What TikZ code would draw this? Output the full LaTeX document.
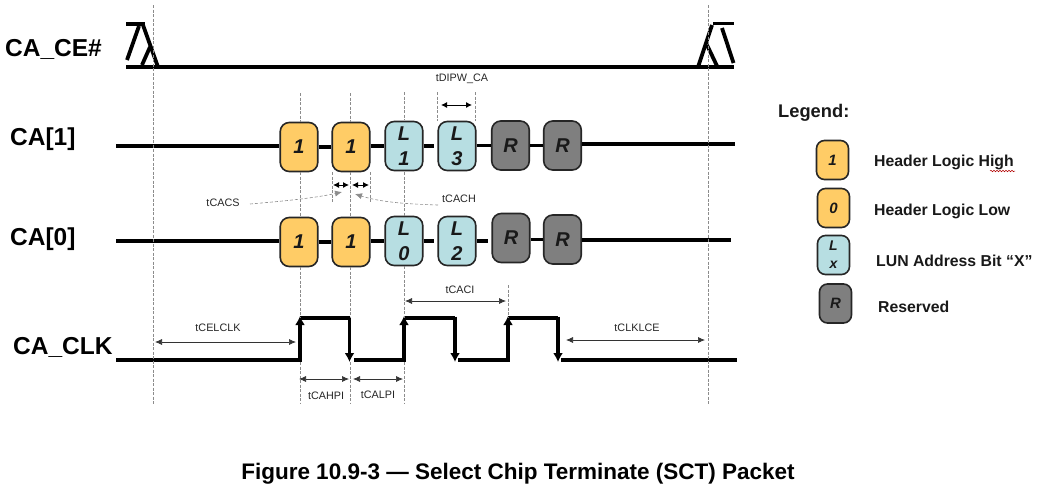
\documentclass[tikz,border=0pt]{standalone}
\usepackage{fontspec}
\setmainfont{Liberation Sans}
\usetikzlibrary{arrows.meta,decorations.pathmorphing}
\definecolor{hdr}{HTML}{FFCC66}
\definecolor{lun}{HTML}{B7DEE2}
\definecolor{rsv}{HTML}{7F7F7F}
\definecolor{guide}{HTML}{8C8C8C}
\tikzset{
  pkt/.style={draw=black!85,line width=1.6pt,rounded corners=9pt,minimum width=37.5pt,minimum height=49pt,inner sep=0pt,align=center,text=black!90,font=\fontsize{20}{23}\selectfont\bfseries\itshape},
  hbox/.style={pkt,fill=hdr},
  lbox/.style={pkt,fill=lun},
  rbox/.style={pkt,fill=rsv},
  lg/.style={pkt,minimum width=32pt,minimum height=39pt,rounded corners=8pt,font=\fontsize{15}{18}\selectfont\bfseries\itshape},
  sig/.style={line width=3.2pt,black},
  ce/.style={line width=3.8pt,black},
  guideline/.style={draw=guide,line width=0.6pt,dash pattern=on 3pt off 1.5pt},
  dim/.style={line width=0.7pt,black!80,{Latex[length=7pt,width=6pt]}-{Latex[length=7pt,width=6pt]}},
  dimshort/.style={line width=0.9pt,black,{Latex[length=6pt,width=6pt]}-{Latex[length=6pt,width=6pt]}},
  hint/.style={draw=guide,line width=0.6pt,dash pattern=on 3pt off 2pt,-{Latex[length=7pt,width=6pt,fill=guide]}},
  tiny/.style={font=\fontsize{10.8}{12}\selectfont,text=black!85,inner sep=0pt},
  sigtitle/.style={font=\fontsize{24.5}{28}\selectfont\bfseries,text=black,inner sep=0pt,anchor=west},
  legtext/.style={font=\fontsize{15.8}{18}\selectfont\bfseries,text=black!90,inner sep=0pt,anchor=west},
  edgeline/.style={line width=3.8pt,black,-{Latex[length=9pt,width=10pt]}},
}
\begin{document}
\begin{tikzpicture}[x=1pt,y=-1pt]
\useasboundingbox (0,0) rectangle (1039,491);
\fill[white] (0,0) rectangle (1039,491);

% titles
\node[sigtitle] (tce) at (5,49) {CA\_CE\#};
\node[sigtitle] (tc1) at (10,139) {CA[1]};
\node[sigtitle] (tc0) at (10,239) {CA[0]};
\node[sigtitle] (tclk) at (13,347) {CA\_CLK};

% CA[1] packets
\coordinate (a0) at (116,146);
\coordinate (a9) at (735,144);
\node[hbox] (a1) at (299,147) {1};
\node[hbox] (a2) at (351,147) {1};
\node[lbox] (a3) at (404,146) {L\\[2pt]1};
\node[lbox] (a4) at (457,146) {L\\[2pt]3};
\node[rbox] (a5) at (510.5,145.5) {R};
\node[rbox] (a6) at (562.5,145.5) {R};
\draw[sig] (a0) -- (a1.west |- a0);
\draw[sig] (a6.east |- a9) -- (a9);
\draw[sig] (a1.east) -- (a2.west);
\draw[sig] (a2.east |- a3) -- (a3.west);
\draw[sig,shorten >=3pt] (a3.east) -- (a4.west);
\draw[sig] (a4.east |- a5) -- (a5.west);
\draw[sig] (a5.east) -- (a6.west);

% CA[0] packets
\coordinate (b0) at (116,241);
\coordinate (b9) at (731,240);
\node[hbox] (b1) at (299,242) {1};
\node[hbox] (b2) at (351,242) {1};
\node[lbox] (b3) at (404,241) {L\\[2pt]0};
\node[lbox] (b4) at (457,241) {L\\[2pt]2};
\node[rbox] (b5) at (511,238) {R};
\node[rbox] (b6) at (562.5,239.5) {R};
\draw[sig] (b0) -- (b1.west |- b0);
\draw[sig] (b6.east |- b9) -- (b9);
\draw[sig] (b1.east) -- (b2.west);
\draw[sig] (b2.east |- b3) -- (b3.west);
\draw[sig,shorten >=3pt] (b3.east) -- (b4.west);
\draw[sig,shorten >=3pt] (b4.east) -- (b5.west |- b4);
\draw[sig] (b5.east |- b6) -- (b6.west);

% CE waveform
\draw[ce] (126,67) -- (734,67);
\draw[ce] (126,24) -- (145,24);
\draw[ce] (139,26) -- (127,60);
\draw[ce] (143,25) -- (158,67);
\draw[ce] (150,47) -- (142,65);
\draw[ce] (713,23.5) -- (734,23.5);
\draw[ce] (712,25) -- (698,67);
\draw[ce] (707,45) -- (717.5,67);
\draw[ce] (722,28) -- (733.5,63);

% clock
\draw[sig] (116,360) -- (300,360);
\draw[sig] (300,318) -- (349.5,318);
\draw[sig] (354,360) -- (404,360);
\draw[sig] (404,318) -- (455,318);
\draw[sig] (458,360) -- (508,360);
\draw[sig] (508,318) -- (558,318);
\draw[sig] (561,360) -- (737,360);
\foreach \x in {300,404,508}{\draw[edgeline] (\x,361.5) -- (\x,316);}
\foreach \x in {349.5,455,558}{\draw[edgeline] (\x,316.5) -- (\x,362);}

% guides
\draw[guideline] (153,5) -- (153,405);
\draw[guideline] (708,5) -- (708,405);
\draw[guideline] (300,93) -- (300,122);
\draw[guideline] (350,93) -- (350,122);
\draw[guideline] (404,92) -- (404,120);
\draw[guideline] (437,92) -- (437,121);
\draw[guideline] (475,92) -- (475,121);
\draw[guideline] (300,172) -- (300,217);
\draw[guideline] (350,172) -- (350,217);
\draw[guideline] (404,172) -- (404,216);
\draw[guideline] (332,172) -- (332,202);
\draw[guideline] (370,172) -- (370,202);
\draw[guideline] (300,267) -- (300,318);
\draw[guideline] (350,267) -- (350,318);
\draw[guideline] (404,266) -- (404,318);
\draw[guideline] (508,285) -- (508,318);
\draw[guideline] (300,362) -- (300,404);
\draw[guideline] (350,362) -- (350,404);
\draw[guideline] (404,362) -- (404,404);

% dimension arrows
\draw[dim] (155,342) -- (296,342);
\draw[dim] (566,340) -- (705,340);
\draw[dim] (405,301) -- (506,301);
\draw[dim] (299,379) -- (349,379);
\draw[dim] (353,379) -- (403,379);
\draw[dimshort] (441,105) -- (472,105);
\draw[dimshort] (333,185) -- (349,185);
\draw[dimshort] (352,185) -- (369,185);
\draw[hint] (250,204) .. controls (285,201) and (315,198) .. (342,192);
\draw[hint] (438,205) .. controls (405,204) and (380,202) .. (355,194);

% small labels
\node[tiny] (l1) at (462,79) {tDIPW\_CA};
\node[tiny] (l2) at (223,203) {tCACS};
\node[tiny] (l3) at (459,199) {tCACH};
\node[tiny] (l4) at (460,290) {tCACI};
\node[tiny] (l5) at (218,328) {tCELCLK};
\node[tiny] (l6) at (637,328) {tCLKLCE};
\node[tiny] (l7) at (326,396) {tCAHPI};
\node[tiny] (l8) at (378,395) {tCALPI};

% legend
\node[font=\fontsize{18.3}{21}\selectfont\bfseries,text=black!90,inner sep=0pt,anchor=west] (lt) at (778,113) {Legend:};
\node[lg,fill=hdr] (g1) at (832.5,160) {1};
\node[lg,fill=hdr] (g2) at (833.5,208) {0};
\node[lg,fill=lun,font=\fontsize{14}{15}\selectfont\bfseries\itshape] (g3) at (833.5,255) {L\\[3pt]x};
\node[lg,fill=rsv] (g4) at (835.5,303.5) {R};
\node[legtext] (t1) at (874,162) {Header Logic High};
\node[legtext] (t2) at (874,211) {Header Logic Low};
\node[legtext] (t3) at (876,261) {LUN Address Bit “X”};
\node[legtext] (t4) at (878,307) {Reserved};
\draw[red!70!black,line width=0.5pt,decorate,decoration={snake,amplitude=0.7pt,segment length=3pt}] (990,171) -- (1015,171);

% caption
\node[font=\fontsize{22.5}{26}\selectfont\bfseries,text=black,inner sep=0pt] (cap) at (518,474) {Figure 10.9-3 — Select Chip Terminate (SCT) Packet};
\end{tikzpicture}
\end{document}
